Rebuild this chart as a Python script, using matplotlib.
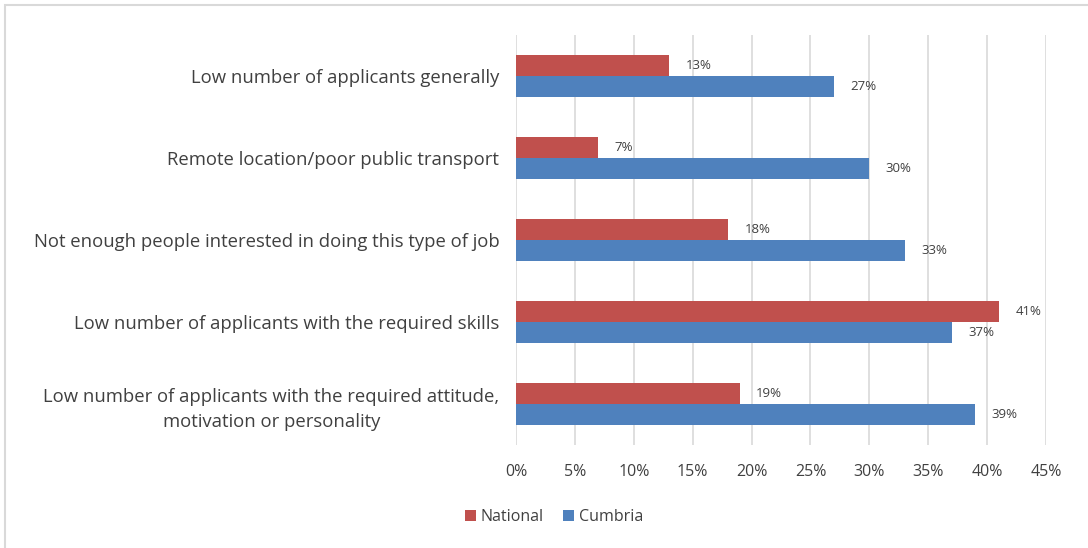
import numpy as np
import matplotlib.pyplot as plt
from matplotlib.patches import Rectangle

plt.rcParams['font.family'] = ['Open Sans', 'DejaVu Sans']

categories = [
    'Low number of applicants generally',
    'Remote location/poor public transport',
    'Not enough people interested in doing this type of job',
    'Low number of applicants with the required skills',
    'Low number of applicants with the required attitude,\nmotivation or personality',
]
national = [13, 7, 18, 41, 19]
cumbria = [27, 30, 33, 37, 39]
xticks = [0, 5, 10, 15, 20, 25, 30, 35, 40, 45]

red = '#C0504D'
blue = '#4F81BD'
text_col = '#404040'

fig = plt.figure(figsize=(10.88, 5.48), dpi=100)
ax = fig.add_axes([516 / 1088, 1 - 445 / 548, 530 / 1088, 410 / 548])

y = np.arange(len(categories))
h = 0.26
ax.barh(y - h / 2, national, height=h, color=red, label='National')
ax.barh(y + h / 2, cumbria, height=h, color=blue, label='Cumbria')

for yi, v in zip(y - h / 2, national):
    ax.text(v + 1.4, yi, f'{v}%', va='center', ha='left', fontsize=9.5, color=text_col)
for yi, v in zip(y + h / 2, cumbria):
    ax.text(v + 1.4, yi, f'{v}%', va='center', ha='left', fontsize=9.5, color=text_col)

ax.set_xlim(0, 45)
ax.set_ylim(len(categories) - 0.5, -0.5)
ax.set_xticks(xticks)
ax.set_xticklabels([f'{t}%' for t in xticks])
ax.set_yticks(y)
ax.set_yticklabels(categories, fontsize=13.3, color=text_col, linespacing=1.5,
                   multialignment='center')
ax.tick_params(axis='x', length=0, pad=14, labelsize=11.5, labelcolor=text_col)
ax.tick_params(axis='y', length=0, pad=12)
ax.grid(axis='x', color='#D9D9D9', linewidth=1.2)
ax.set_axisbelow(True)
for s in ax.spines.values():
    s.set_visible(False)

fig.legend(loc='center', bbox_to_anchor=(554 / 1088, 1 - 517 / 548), ncol=2,
           frameon=False, fontsize=11.5, handlelength=0.7, handleheight=0.7,
           handletextpad=0.3, columnspacing=1.2, labelcolor=text_col)

fig.patches.append(Rectangle((5 / 1088, -0.1), 1.2, 1.1 - 5 / 548, transform=fig.transFigure,
                             fill=False, edgecolor='#D9D9D9', linewidth=1.5))

fig.savefig('out.png', dpi=100)
